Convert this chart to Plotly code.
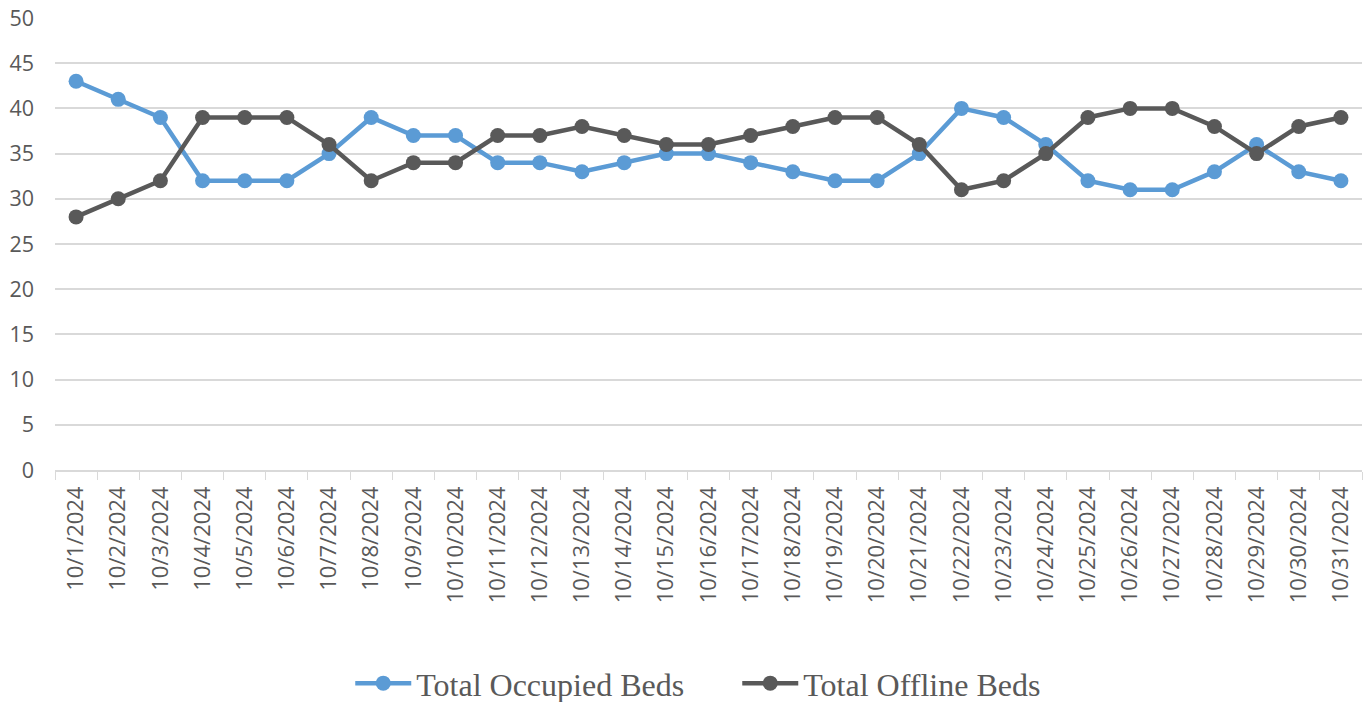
import plotly.graph_objects as go

dates = [f"10/{d}/2024" for d in range(1, 32)]
occupied = [43, 41, 39, 32, 32, 32, 35, 39, 37, 37, 34, 34, 33, 34, 35, 35, 34, 33, 32, 32,
            35, 40, 39, 36, 32, 31, 31, 33, 36, 33, 32]
offline = [28, 30, 32, 39, 39, 39, 36, 32, 34, 34, 37, 37, 38, 37, 36, 36, 37, 38, 39, 39,
           36, 31, 32, 35, 39, 40, 40, 38, 35, 38, 39]

fig = go.Figure()
fig.add_trace(go.Scatter(x=dates, y=occupied, name="Total Occupied Beds", mode="lines+markers",
                         line=dict(color="#5B9BD5", width=4.5), marker=dict(size=15, color="#5B9BD5")))
fig.add_trace(go.Scatter(x=dates, y=offline, name="Total Offline Beds", mode="lines+markers",
                         line=dict(color="#595959", width=4.5), marker=dict(size=15, color="#595959")))

fig.update_layout(
    width=1368, height=730,
    paper_bgcolor="white", plot_bgcolor="white",
    margin=dict(l=55, r=6, t=18, b=260),
    font=dict(family="Open Sans, Noto Sans, sans-serif", color="#595959"),
    hovermode=False,
    legend=dict(orientation="h", x=0.522, xanchor="center", y=-0.472, yanchor="middle",
                font=dict(family="Liberation Serif, Times New Roman, serif", size=32, color="#595959"),
                itemwidth=56, traceorder="normal", entrywidth=316, entrywidthmode="pixels"),
    xaxis=dict(type="category", range=[-0.5, 30.5], tickangle=-90, tickson="boundaries",
               ticks="outside", ticklen=8, tickcolor="#d9d9d9", showline=True, linecolor="#d9d9d9",
               linewidth=1.5, showgrid=False, tickfont=dict(size=22, color="#595959"),
               automargin=False, ticklabelstandoff=6),
    yaxis=dict(range=[0, 50], dtick=5, showgrid=True, gridcolor="#d9d9d9", gridwidth=1.5,
               zeroline=False, showline=False, tickfont=dict(size=21.5, color="#595959"),
               ticklabelstandoff=20, automargin=False, ticklabeloverflow="allow"),
)

fig.write_html("out.html", config={"displayModeBar": False},
               post_script="document.body.style.margin='0';")
